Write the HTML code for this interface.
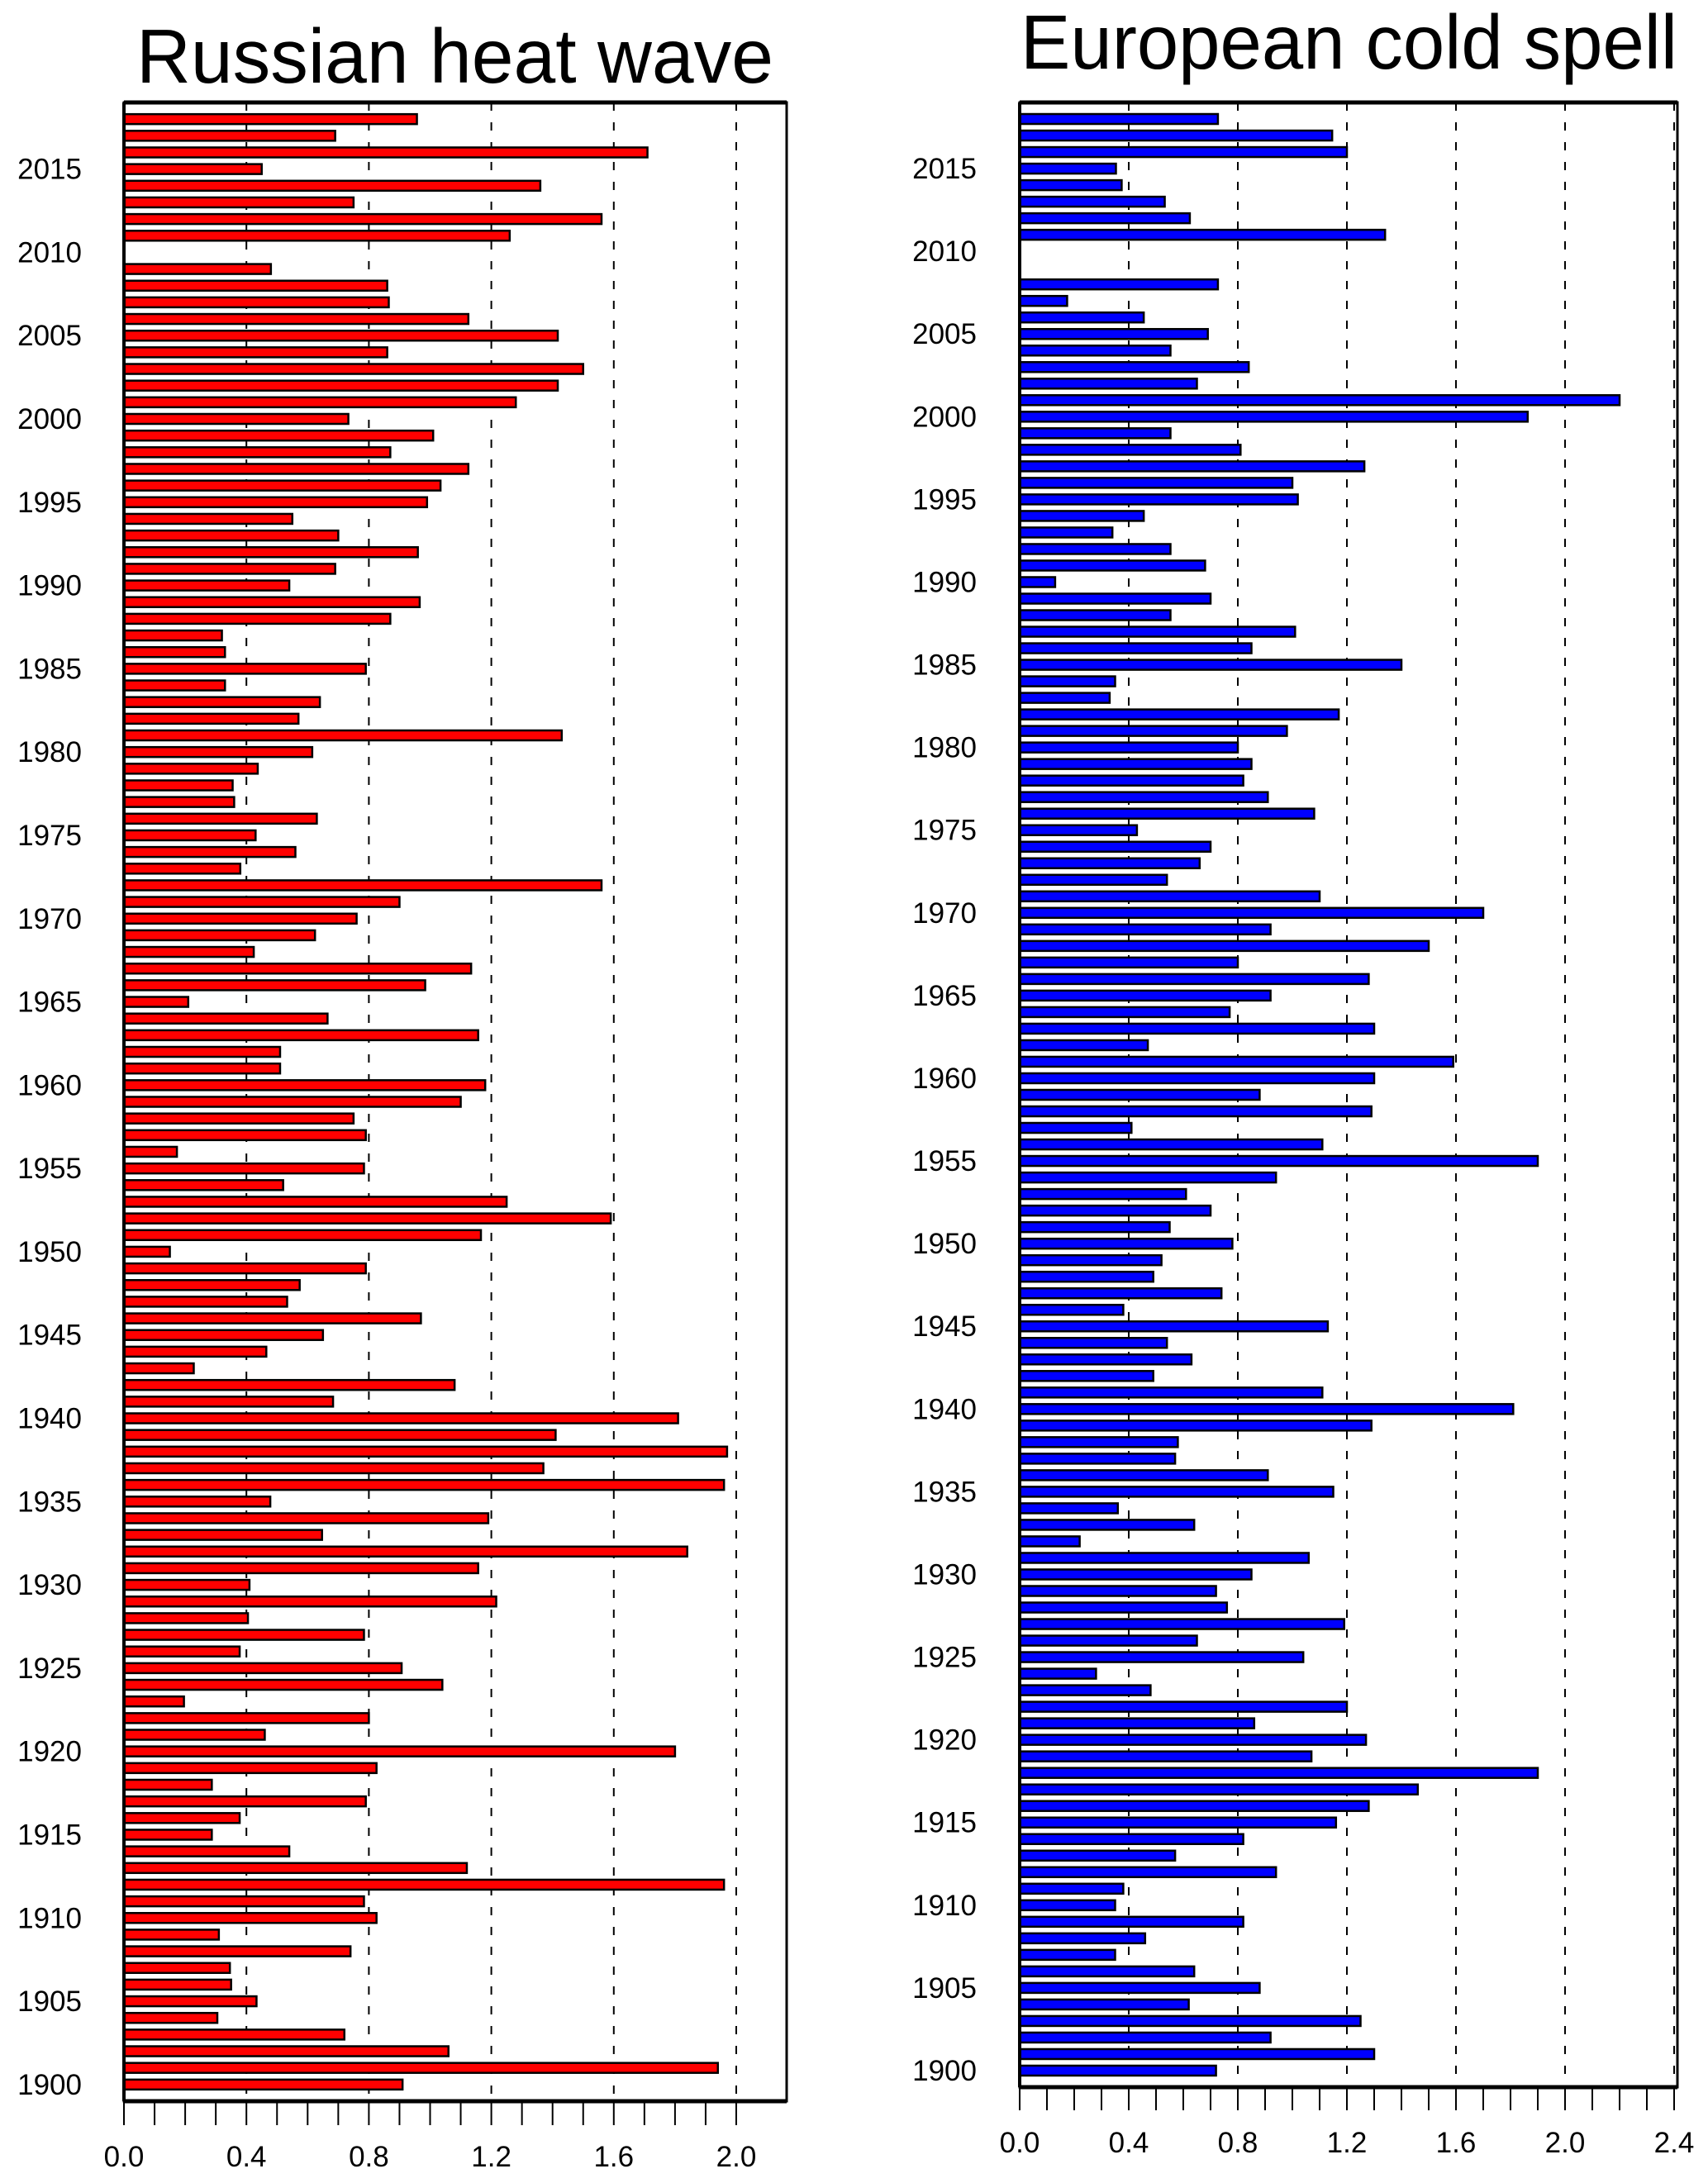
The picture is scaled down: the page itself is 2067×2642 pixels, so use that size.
<!DOCTYPE html>
<html><head><meta charset="utf-8">
<style>
html,body{margin:0;padding:0;background:#fff;}
svg{display:block;font-family:"Liberation Sans",Arial,sans-serif;}
</style></head>
<body>
<svg id="chart" width="2067" height="2642" viewBox="0 0 2067 2642" xmlns="http://www.w3.org/2000/svg">
<text x="165" y="100" font-size="93" textLength="771" lengthAdjust="spacingAndGlyphs">Russian heat wave</text>
<text x="1235" y="83" font-size="93" textLength="795" lengthAdjust="spacingAndGlyphs">European cold spell</text>
<g id="left"></g>
<g id="right"></g>
</svg>
<script>
// years from 2018 down to 1900
const russianValues = [0.957,0.69,1.71,0.45,1.36,0.75,1.56,1.26,0,0.48,
0.86,0.865,1.125,1.417,0.86,1.50,1.417,1.28,0.733,1.01,
0.87,1.125,1.034,0.99,0.55,0.70,0.96,0.69,0.54,0.966,
0.87,0.32,0.33,0.79,0.33,0.64,0.57,1.43,0.615,0.437,
0.355,0.36,0.63,0.43,0.56,0.38,1.56,0.90,0.76,0.624,
0.424,1.134,0.984,0.21,0.665,1.157,0.51,0.51,1.18,1.10,
0.75,0.79,0.173,0.784,0.52,1.25,1.59,1.166,0.15,0.79,
0.574,0.533,0.97,0.65,0.465,0.228,1.08,0.683,1.81,1.41,
1.97,1.37,1.96,0.478,1.19,0.647,1.84,1.157,0.41,1.216,
0.405,0.784,0.378,0.907,1.04,0.196,0.80,0.46,1.80,0.825,
0.287,0.79,0.378,0.287,0.54,1.12,1.96,0.784,0.825,0.31,
0.74,0.346,0.35,0.433,0.305,0.72,1.06,1.94,0.91];
const europeanValues = [0.727,1.146,1.20,0.353,0.374,0.532,0.624,1.34,0,0,
0.727,0.174,0.455,0.69,0.553,0.84,0.65,2.20,1.863,0.553,
0.81,1.264,1.00,1.02,0.455,0.34,0.553,0.68,0.13,0.70,
0.553,1.01,0.85,1.40,0.35,0.33,1.17,0.98,0.80,0.85,
0.82,0.91,1.08,0.43,0.70,0.66,0.54,1.10,1.70,0.92,
1.50,0.80,1.28,0.92,0.77,1.30,0.47,1.59,1.30,0.88,
1.29,0.41,1.11,1.90,
0.94,0.61,0.70,0.55,0.78,0.52,0.49,0.74,0.38,1.13,
0.54,0.63,0.49,1.11,1.81,1.29,0.58,0.57,0.91,1.15,
0.36,0.64,0.22,1.06,0.85,0.72,0.76,1.19,0.65,1.04,
0.28,0.48,1.20,0.86,1.27,1.07,1.90,1.46,1.28,1.16,
0.82,0.57,0.94,0.38,0.35,0.82,0.46,0.35,0.64,0.88,
0.62,1.25,0.92,1.30,0.72];
const firstYear = 2018;
const yearTicks = [1900,1905,1910,1915,1920,1925,1930,1935,1940,1945,1950,1955,1960,1965,1970,1975,1980,1985,1990,1995,2000,2005,2010,2015];
const leftXTicks = [0.0,0.4,0.8,1.2,1.6,2.0];
const rightXTicks = [0.0,0.4,0.8,1.2,1.6,2.0,2.4];

const NS="http://www.w3.org/2000/svg";
function mk(parent,tag,attrs){const e=document.createElementNS(NS,tag);for(const k in attrs)e.setAttribute(k,attrs[k]);parent.appendChild(e);return e;}

function panel(g,cfg){
  const xs=v=>cfg.x0+(v-0)*(cfg.x1-cfg.x0)/(cfg.xmax);
  const ys=yr=>cfg.bottom-(yr-1899)*(cfg.bottom-cfg.top)/120;
  // grid
  cfg.ticks.forEach(t=>{ if(t===0) return;
    const l=mk(g,'line',{x1:xs(t),x2:xs(t),y1:cfg.top,y2:cfg.bottom,stroke:'#000','stroke-width':2,'stroke-dasharray':'10 14'});
    
    
  });
  // bars
  cfg.values.forEach((v,i)=>{
    const yr=firstYear-i; if(!v) return;
    const yc=ys(yr);
    const r=mk(g,'rect',{x:xs(0),y:yc-6,width:xs(v)-xs(0),height:12,fill:cfg.color,stroke:'#000','stroke-width':2.5});
    
    
  });
  // frame
  const f=mk(g,'rect',{x:cfg.x0,y:cfg.top,width:cfg.right-cfg.x0,height:cfg.bottom-cfg.top,fill:'none',stroke:'#000','stroke-width':3});
  
  
  mk(g,'line',{x1:cfg.x0,x2:cfg.right,y1:cfg.top,y2:cfg.top,stroke:'#000','stroke-width':5});
  mk(g,'line',{x1:cfg.x0,x2:cfg.right,y1:cfg.bottom,y2:cfg.bottom,stroke:'#000','stroke-width':5});
  mk(g,'line',{x1:cfg.x0,x2:cfg.x0,y1:cfg.top,y2:cfg.bottom,stroke:'#000','stroke-width':4});
  // minor/major ticks
  for(let k=0;k<=Math.floor(cfg.xmax*10+1e-6);k++){
    const v=k/10;
    mk(g,'line',{x1:xs(v),x2:xs(v),y1:cfg.bottom,y2:cfg.bottom+cfg.tickLen,stroke:'#000','stroke-width':2});
  }
  cfg.ticks.forEach(t=>{
    const tx=mk(g,'text',{x:xs(t),y:cfg.labelY,'font-size':35,'text-anchor':'middle'});
    tx.textContent=t.toFixed(1);
    
    
  });
  yearTicks.forEach(yr=>{
    const tx=mk(g,'text',{x:cfg.ylabX,y:ys(yr)+12,'font-size':35,'text-anchor':'end'});
    tx.textContent=yr;
    
    
  });
}
panel(document.getElementById('left'),{x0:150,x1:891,xmax:2.0,right:952,top:124,bottom:2543,color:'#ff0000',values:russianValues,ticks:leftXTicks,tickLen:29,labelY:2622,ylabX:99});
panel(document.getElementById('right'),{x0:1234,x1:2026,xmax:2.4,right:2030,top:124,bottom:2526,color:'#0000ff',values:europeanValues,ticks:rightXTicks,tickLen:28,labelY:2605,ylabX:1182});
</script>
</body></html>
